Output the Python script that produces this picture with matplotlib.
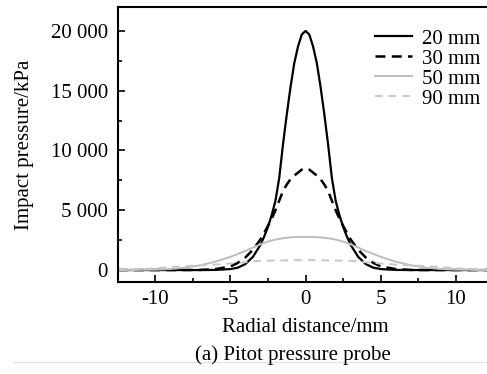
import matplotlib
matplotlib.use('Agg')
import matplotlib.pyplot as plt
from matplotlib.ticker import MultipleLocator, FuncFormatter
from matplotlib.lines import Line2D
import numpy as np

plt.rcParams['font.family'] = 'Liberation Serif'
plt.rcParams['font.size'] = 15

# radial distance (mm), left half of each profile, mirrored below
x_half = [-12.5, -11.5, -10, -9, -8, -7, -6, -5, -4.5, -4, -3.5, -3, -2.75, -2.5, -2.25, -2,
          -1.75, -1.5, -1.25, -1, -0.75, -0.5, -0.25, 0]
p20 = [0, 0, 0, 0, 0, 0, 10, 80, 200, 500, 1100, 2100, 2800, 3600, 4600, 5800,
       7700, 10500, 13000, 15300, 17300, 18700, 19700, 20000]
p30 = [0, 0, 0, 0, 0, 10, 80, 300, 600, 1050, 1700, 2550, 3100, 3700, 4300, 5000,
       5800, 6600, 7150, 7600, 7900, 8150, 8400, 8500]
p50 = [0, 10, 30, 80, 200, 400, 700, 1100, 1350, 1600, 1880, 2150, 2270, 2380, 2470, 2550,
       2610, 2660, 2700, 2730, 2750, 2760, 2770, 2770]
p90 = [0, 30, 150, 250, 330, 390, 450, 550, 600, 650, 740, 770, 780, 785, 790, 795,
       800, 805, 810, 815, 820, 825, 830, 830]

labels = ['20 mm', '30 mm', '50 mm', '90 mm']


def mirror(xs, ys):
    xs = np.array(xs)
    ys = np.array(ys)
    return np.concatenate([xs, -xs[-2::-1]]), np.concatenate([ys, ys[-2::-1]])


fig = plt.figure(figsize=(4.87, 3.74), dpi=100)
ax = fig.add_axes([117.5 / 487, 1 - 282 / 374, (493.6 - 117.5) / 487, (282 - 7) / 374])

styles = [
    dict(color='black', lw=1.6, ls='-'),
    dict(color='black', lw=1.8, ls=(0, (4, 2.5))),
    dict(color='#bdbdbd', lw=1.4, ls='-'),
    dict(color='#c8c8c8', lw=1.4, ls=(0, (4, 3))),
]
for ys, lab, st in zip([p20, p30, p50, p90], labels, styles):
    xx, yy = mirror(x_half, ys)
    ax.plot(xx, yy, label=lab, **st)

ax.set_xlim(-12.5, 12.5)
ax.set_ylim(-1000, 22000)
ax.xaxis.set_major_locator(MultipleLocator(5))
ax.xaxis.set_minor_locator(MultipleLocator(2.5))
ax.yaxis.set_major_locator(MultipleLocator(5000))
ax.yaxis.set_minor_locator(MultipleLocator(2500))
ax.yaxis.set_major_formatter(FuncFormatter(lambda v, p: f'{int(v):,}'.replace(',', ' ')))
ax.xaxis.set_major_formatter(FuncFormatter(lambda v, p: f'{int(v)}'))
ax.tick_params(which='both', direction='in', width=1.2)
ax.tick_params(which='major', length=5, labelsize=15)
ax.tick_params(axis='y', which='major', pad=7)
ax.tick_params(axis='x', which='major', pad=6)
ax.tick_params(which='minor', length=3)
for s in ax.spines.values():
    s.set_linewidth(1.5)

ax.set_xlabel('Radial distance/mm', fontsize=15, labelpad=6)
ax.set_ylabel('Impact pressure/kPa', fontsize=15, labelpad=12)

ax.legend(loc='upper left', bbox_to_anchor=(375 / 487, 1 - 29 / 374), bbox_transform=fig.transFigure,
          frameon=False, handlelength=1.78, handletextpad=0.48, labelspacing=0.02,
          fontsize=15, borderaxespad=0, borderpad=0)

fig.text(293 / 487, 1 - 355 / 374, '(a) Pitot pressure probe', ha='center', va='center', fontsize=15)
fig.add_artist(Line2D([13 / 487, 1], [1 - 362 / 374, 1 - 362 / 374], color='#e4e4e4', lw=1))

fig.savefig('out.png', dpi=100)
